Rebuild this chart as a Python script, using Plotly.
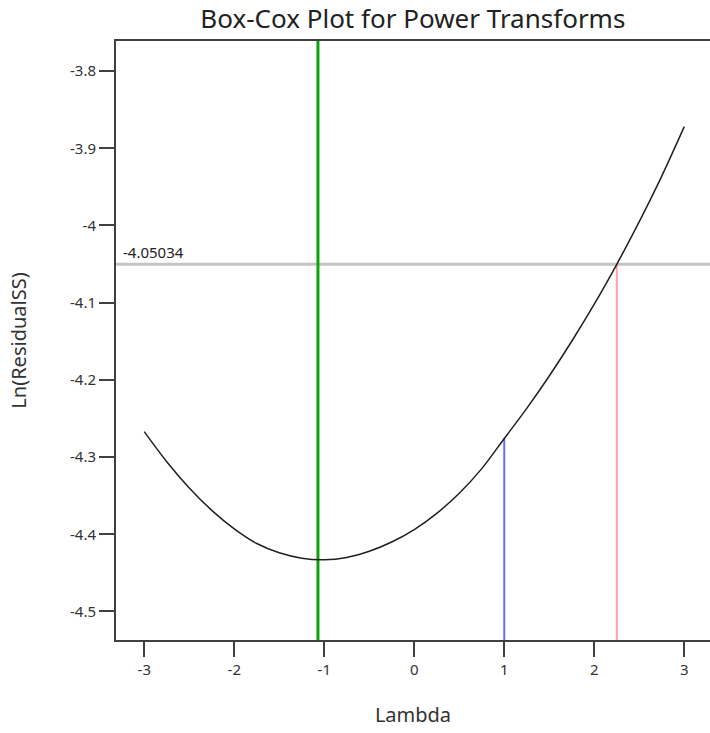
import plotly.graph_objects as go

# Box-Cox profile: ln(residual SS) for each power lambda
lambdas = [-3.0, -2.75, -2.5, -2.25, -2.0, -1.75, -1.5, -1.25, -1.0, -0.75, -0.5, -0.25,
           0.0, 0.25, 0.5, 0.75, 1.0, 1.25, 1.5, 1.75, 2.0, 2.25, 2.5, 2.75, 3.0]
ln_residual_ss = [-4.267, -4.306, -4.340, -4.369, -4.393, -4.412, -4.424, -4.431, -4.433,
                  -4.430, -4.422, -4.410, -4.394, -4.373, -4.347, -4.315, -4.276, -4.237,
                  -4.195, -4.150, -4.102, -4.0503, -3.995, -3.936, -3.872]

best_lambda = -1.07        # minimum of the curve
current_lambda = 1.0       # current transform (none)
current_value = -4.276
ci_high_lambda = 2.25      # upper confidence limit
ci_level = -4.05034        # confidence threshold on ln(ResidualSS)

x_ticks = [-3, -2, -1, 0, 1, 2, 3]
y_ticks = [-3.8, -3.9, -4.0, -4.1, -4.2, -4.3, -4.4, -4.5]
y_tick_text = ["-3.8", "-3.9", "-4", "-4.1", "-4.2", "-4.3", "-4.4", "-4.5"]

x_range = [-3.314, 3.286]
y_range = [-4.537, -3.761]

FONT = "Noto Sans"
AXIS_COLOR = "#404040"
TEXT_COLOR = "#333333"

fig = go.Figure()

# confidence threshold line
fig.add_trace(go.Scatter(x=x_range, y=[ci_level, ci_level], mode="lines",
                         line=dict(color="#c4c4c4", width=3), hoverinfo="skip"))
# best lambda (full height)
fig.add_trace(go.Scatter(x=[best_lambda, best_lambda], y=y_range, mode="lines",
                         line=dict(color="#0ca20c", width=3), hoverinfo="skip"))
# current lambda
fig.add_trace(go.Scatter(x=[current_lambda, current_lambda], y=[y_range[0], current_value],
                         mode="lines", line=dict(color="#6a6aff", width=2), hoverinfo="skip"))
# upper confidence limit
fig.add_trace(go.Scatter(x=[ci_high_lambda, ci_high_lambda], y=[y_range[0], ci_level],
                         mode="lines", line=dict(color="#ffa0a0", width=2), hoverinfo="skip"))
# profile curve
fig.add_trace(go.Scatter(x=lambdas, y=ln_residual_ss, mode="lines",
                         line=dict(color="#202020", width=1.5, shape="spline", smoothing=1.0)))

fig.add_annotation(x=x_range[0], y=ci_level, xref="x", yref="y", text=f"{ci_level:.5f}",
                   showarrow=False, xanchor="left", yanchor="bottom", xshift=5, yshift=0,
                   font=dict(family=FONT, size=15, color="#222222"))

fig.update_layout(
    width=710, height=733,
    margin=dict(l=116, r=0, t=41, b=93),
    paper_bgcolor="white", plot_bgcolor="white",
    showlegend=False,
    title=dict(text="Box-Cox Plot for Power Transforms", x=0.5815, xanchor="center",
               y=0.974, yanchor="middle",
               font=dict(family=FONT, size=26, color="#222222")),
    font=dict(family=FONT, size=15, color=TEXT_COLOR),
)

fig.update_xaxes(range=x_range, tickvals=x_ticks, ticktext=[str(v) for v in x_ticks],
                 showgrid=False, zeroline=False, showline=True, linecolor=AXIS_COLOR,
                 linewidth=2, mirror=True, ticks="outside", ticklen=15, tickwidth=2,
                 tickcolor=AXIS_COLOR, tickfont=dict(family=FONT, size=15, color=TEXT_COLOR),
                 title=dict(text="Lambda", font=dict(family=FONT, size=20, color=TEXT_COLOR),
                            standoff=30))
fig.update_yaxes(range=y_range, tickvals=y_ticks, ticktext=y_tick_text,
                 showgrid=False, zeroline=False, showline=True, linecolor=AXIS_COLOR,
                 linewidth=2, mirror=False, ticks="outside", ticklen=15, tickwidth=2,
                 tickcolor=AXIS_COLOR, tickfont=dict(family=FONT, size=15, color=TEXT_COLOR),
                 title=dict(text="Ln(ResidualSS)", font=dict(family=FONT, size=20, color=TEXT_COLOR),
                            standoff=38))

fig.write_html("out.html")
